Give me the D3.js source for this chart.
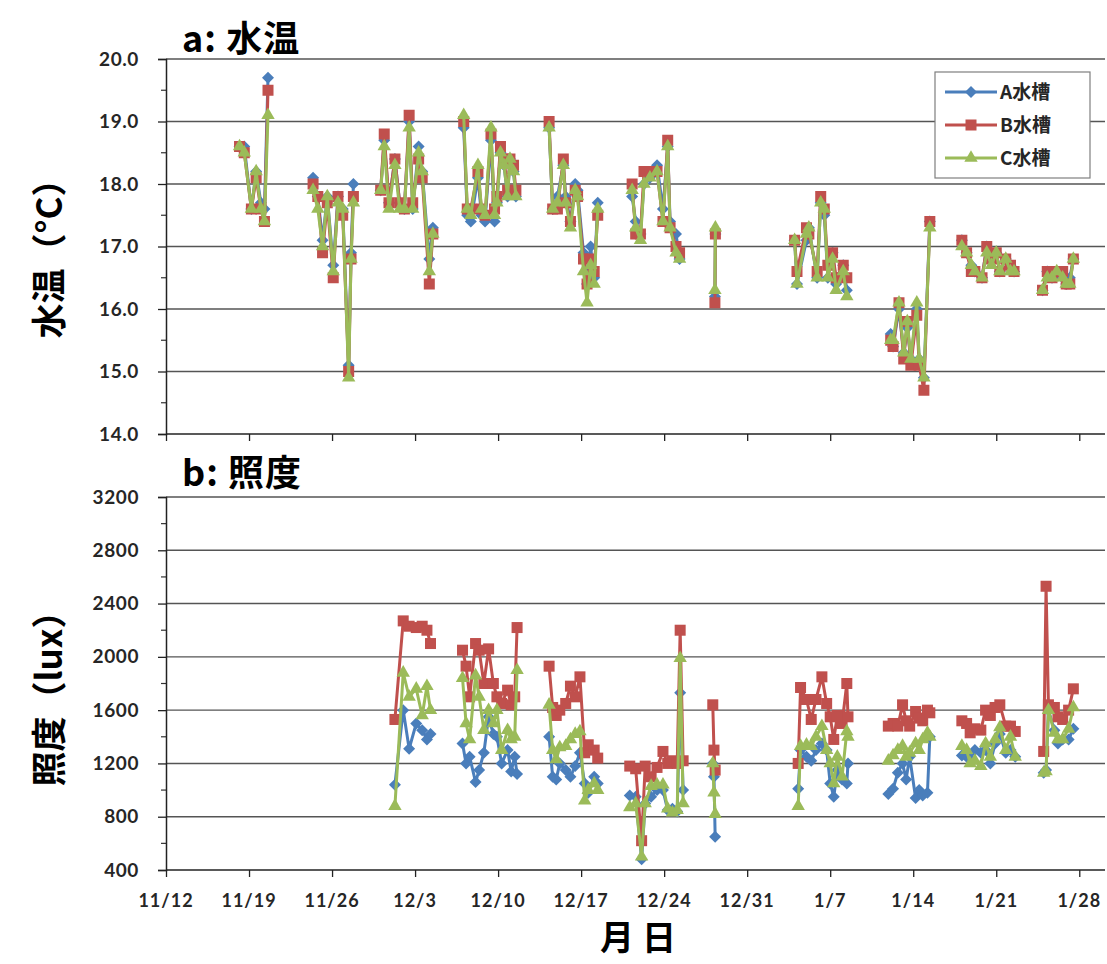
<!DOCTYPE html>
<html>
<head>
<meta charset="utf-8">
<script src="https://cdn.jsdelivr.net/npm/d3@7"></script>
<style>
  body { margin: 0; background: #fff; }
  text { font-family: "Lato", "Open Sans", sans-serif; }
  .jp { font-family: "Noto Sans CJK JP", sans-serif; }
</style>
</head>
<body>
<div id="chart"></div>
<script>
// day offsets from 11/12, null = gap between measurement runs
var tickLabels = ["11/12","11/19","11/26","12/3","12/10","12/17","12/24","12/31","1/7","1/14","1/21","1/28"];
var tickDays = [0, 7, 14, 21, 28, 35, 42, 49, 56, 63, 70, 77];
var seriesNames = ["A水槽", "B水槽", "C水槽"];
var colors = ["#4a7ebb", "#c0504d", "#9bbb59"];

var tempDays = [6.2, 6.6, 7.2, 7.6, 8.0, 8.3, 8.6, null,
  12.4, 12.8, 13.2, 13.6, 14.1, 14.5, 14.9, 15.4, 15.6, 15.8, null,
  18.1, 18.4, 18.8, 19.3, 19.7, 20.1, 20.5, 20.8, 21.3, 21.6, 22.2, 22.5, null,
  25.1, 25.4, 25.7, 26.3, 26.6, 26.9, 27.4, 27.7, 27.9, 28.2, 28.5, 28.8, 29.0, 29.3, 29.5, null,
  32.3, 32.6, 33.0, 33.5, 33.7, 34.1, 34.5, 34.7, 35.2, 35.5, 35.8, 36.1, 36.4, null,
  39.3, 39.6, 40.0, 40.3, 40.8, 41.4, 41.9, 42.3, 42.5, 43.0, 43.3, null,
  46.28, 46.32, null,
  53.0, 53.2, 54.0, 54.2, 54.9, 55.2, 55.5, 55.8, 56.2, 56.5, 57.1, 57.4, null,
  61.1, 61.3, 61.8, 62.2, 62.5, 62.8, 63.3, 63.5, 63.9, 64.4, null,
  67.1, 67.5, 67.9, 68.2, 68.8, 69.2, 69.6, 70.0, 70.3, 70.8, 71.2, 71.5, null,
  73.9, 74.3, 74.7, 75.1, 75.6, 75.9, 76.2, 76.5];
var tempA = [18.6, 18.6, 17.6, 18.2, 17.7, 17.6, 19.7, null,
  18.1, 17.8, 17.1, 17.8, 16.7, 17.8, 17.6, 15.1, 16.9, 18.0, null,
  17.9, 18.7, 17.7, 18.4, 17.7, 17.6, 19.0, 17.6, 18.6, 18.2, 16.8, 17.3, null,
  18.9, 17.5, 17.4, 18.1, 17.5, 17.4, 18.7, 17.4, 17.7, 18.5, 18.3, 17.8, 18.4, 18.2, 17.8, null,
  18.9, 17.6, 17.8, 18.3, 17.8, 17.4, 18.0, 17.9, 16.9, 16.4, 17.0, 16.5, 17.7, null,
  17.8, 17.4, 17.2, 18.0, 18.1, 18.3, 17.6, 18.6, 17.4, 17.2, 16.8, null,
  16.2, 17.2, null,
  17.1, 16.4, 17.1, 17.3, 16.5, 17.7, 17.5, 16.5, 16.9, 16.4, 16.7, 16.3, null,
  15.6, 15.4, 16.0, 15.3, 15.7, 15.2, 16.0, 15.2, 14.9, 17.4, null,
  17.1, 16.9, 16.7, 16.6, 16.5, 17.0, 16.8, 16.9, 16.6, 16.8, 16.7, 16.6, null,
  16.3, 16.6, 16.5, 16.6, 16.5, 16.4, 16.5, 16.8];
var tempB = [18.6, 18.5, 17.6, 18.1, 17.6, 17.4, 19.5, null,
  18.0, 17.8, 16.9, 17.7, 16.5, 17.8, 17.5, 15.0, 16.8, 17.8, null,
  17.9, 18.8, 17.7, 18.4, 17.7, 17.6, 19.1, 17.7, 18.4, 18.1, 16.4, 17.2, null,
  19.0, 17.6, 17.6, 18.2, 17.6, 17.5, 18.8, 17.6, 17.8, 18.6, 18.4, 17.9, 18.4, 18.3, 17.9, null,
  19.0, 17.6, 17.6, 18.4, 17.7, 17.4, 17.9, 17.8, 16.8, 16.4, 16.8, 16.6, 17.5, null,
  18.0, 17.2, 17.2, 18.2, 18.2, 18.2, 17.4, 18.7, 17.3, 17.0, 16.9, null,
  16.1, 17.2, null,
  17.1, 16.6, 17.3, 17.2, 16.6, 17.8, 17.6, 16.7, 16.9, 16.5, 16.7, 16.5, null,
  15.5, 15.4, 16.1, 15.2, 15.8, 15.1, 15.9, 15.1, 14.7, 17.4, null,
  17.1, 16.9, 16.6, 16.6, 16.5, 17.0, 16.8, 16.9, 16.6, 16.8, 16.7, 16.6, null,
  16.3, 16.6, 16.5, 16.6, 16.6, 16.4, 16.4, 16.8];
var tempC = [18.6, 18.5, 17.6, 18.2, 17.6, 17.4, 19.1, null,
  17.9, 17.6, 17.0, 17.8, 16.6, 17.7, 17.6, 14.9, 16.8, 17.7, null,
  17.9, 18.6, 17.6, 18.3, 17.6, 17.6, 18.9, 17.6, 18.5, 18.2, 16.6, 17.2, null,
  19.1, 17.6, 17.5, 18.3, 17.6, 17.5, 18.9, 17.5, 17.7, 18.5, 18.3, 17.8, 18.4, 18.2, 17.8, null,
  18.9, 17.6, 17.7, 18.3, 17.7, 17.3, 17.9, 17.8, 16.6, 16.1, 16.7, 16.4, 17.6, null,
  17.9, 17.3, 17.1, 18.0, 18.1, 18.2, 17.4, 18.6, 17.3, 16.9, 16.8, null,
  16.3, 17.3, null,
  17.1, 16.4, 17.2, 17.3, 16.5, 17.7, 17.6, 16.5, 16.8, 16.3, 16.6, 16.2, null,
  15.5, 15.5, 16.1, 15.3, 15.8, 15.2, 16.1, 15.2, 14.9, 17.3, null,
  17.0, 16.9, 16.7, 16.6, 16.5, 16.9, 16.7, 16.9, 16.6, 16.8, 16.6, 16.6, null,
  16.3, 16.5, 16.5, 16.6, 16.5, 16.4, 16.4, 16.8];

var luxDays = [19.3, 20.0, 20.5, 21.1, 21.6, 22.0, 22.3, null,
  25.0, 25.3, 25.6, 26.1, 26.4, 26.8, 27.2, 27.6, 27.9, 28.3, 28.8, 29.1, 29.4, 29.6, null,
  32.3, 32.6, 32.9, 33.2, 33.7, 34.1, 34.5, 34.9, 35.3, 35.6, 36.1, 36.4, null,
  39.1, 39.6, 40.1, 40.4, 40.9, 41.4, 41.9, 42.3, 42.7, 43.1, 43.35, 43.6, null,
  46.1, 46.2, 46.3, null,
  53.3, 53.5, 54.0, 54.4, 54.8, 55.3, 55.7, 56.0, 56.3, 56.6, 57.0, 57.4, 57.5, null,
  60.9, 61.3, 61.7, 62.1, 62.4, 62.7, 63.2, 63.5, 63.8, 64.2, 64.4, null,
  67.1, 67.5, 67.8, 68.2, 68.7, 69.1, 69.5, 69.9, 70.3, 70.8, 71.2, 71.6, null,
  74.0, 74.2, 74.4, 74.9, 75.2, 75.6, 76.1, 76.5];
var luxA = [1040, 1600, 1310, 1500, 1450, 1380, 1420, null,
  1350, 1200, 1250, 1060, 1150, 1280, 1550, 1420, 1400, 1200, 1300, 1140, 1250, 1120, null,
  1400, 1100, 1080, 1200, 1150, 1100, 1180, 1280, 1050, 980, 1100, 1050, null,
  960, 950, 480, 900, 950, 1000, 1000, 850, 860, 840, 1730, 1000, null,
  1200, 1100, 650, null,
  1010, 1300, 1250, 1220, 1300, 1350, 1300, 1050, 950, 1150, 1080, 1050, 1200, null,
  970, 1010, 1130, 1200, 1080, 1250, 940, 1000, 960, 980, 1400, null,
  1260, 1250, 1230, 1300, 1280, 1300, 1200, 1350, 1420, 1280, 1300, 1250, null,
  1130, 1150, 1600, 1450, 1350, 1380, 1380, 1460];
var luxB = [1530, 2270, 2230, 2220, 2230, 2200, 2100, null,
  2050, 1930, 1700, 2100, 2050, 1800, 2060, 1800, 1700, 1650, 1750, 1640, 1700, 2220, null,
  1930, 1620, 1560, 1600, 1650, 1780, 1700, 1850, 1280, 1340, 1300, 1240, null,
  1180, 1160, 620, 1180, 1100, 1170, 1290, 1200, 1220, 1200, 2200, 1220, null,
  1640, 1300, 1150, null,
  1200, 1770, 1680, 1530, 1680, 1850, 1650, 1550, 1380, 1560, 1500, 1800, 1550, null,
  1480, 1500, 1480, 1640, 1520, 1480, 1590, 1540, 1520, 1600, 1580, null,
  1520, 1500, 1430, 1460, 1450, 1600, 1560, 1620, 1640, 1480, 1480, 1440, null,
  1290, 2530, 1640, 1620, 1550, 1530, 1600, 1760];
var luxC = [880, 1880, 1700, 1760, 1560, 1780, 1600, null,
  1840, 1500, 1380, 1860, 1700, 1450, 1600, 1500, 1600, 1300, 1450, 1380, 1400, 1900, null,
  1640, 1300, 1230, 1320, 1330, 1380, 1420, 1440, 920, 1000, 1050, 1000, null,
  870, 900, 500, 900, 1030, 1040, 1040, 860, 830, 850, 1990, 900, null,
  1200, 980, 820, null,
  880, 1330, 1340, 1330, 1400, 1480, 1300, 1200, 1050, 1250, 1100, 1440, 1400, null,
  1220, 1260, 1300, 1330, 1250, 1280, 1350, 1300, 1380, 1430, 1400, null,
  1330, 1300, 1200, 1220, 1180, 1350, 1250, 1380, 1470, 1300, 1400, 1250, null,
  1130, 1140, 1600, 1430, 1380, 1380, 1460, 1620];

var tempTicks = [14, 15, 16, 17, 18, 19, 20];
var luxTicks = [400, 800, 1200, 1600, 2000, 2400, 2800, 3200];

var W = 1107, H = 964;
var svg = d3.select("#chart").append("svg").attr("width", W).attr("height", H);

var x = d3.scaleLinear().domain([0, 79]).range([166, 1103]);
var yT = d3.scaleLinear().domain([14, 20]).range([434, 59]);
var yL = d3.scaleLinear().domain([400, 3200]).range([870, 497]);

function marker(sel, k) {
  if (k === 0) sel.append("path").attr("d", "M0,-6L6,0L0,6L-6,0Z");
  else if (k === 1) sel.append("rect").attr("x", -5.5).attr("y", -5.5).attr("width", 11).attr("height", 11);
  else sel.append("path").attr("d", d3.symbol(d3.symbolTriangle, 78)());
}

function panel(y, ticks, fmt, minorStep, days, series) {
  var g = svg.append("g");
  // gridlines
  g.selectAll(".grid").data(ticks.slice(1)).enter().append("line")
    .attr("x1", x.range()[0]).attr("x2", 1105)
    .attr("y1", d => y(d)).attr("y2", d => y(d))
    .attr("stroke", "#555").attr("stroke-width", 1.4);

  // minor ticks
  var minors = d3.range(ticks[0] + minorStep, ticks[ticks.length - 1], minorStep * 2);
  g.selectAll(".minor").data(minors).enter().append("line")
    .attr("x1", 161).attr("x2", 166)
    .attr("y1", d => y(d)).attr("y2", d => y(d))
    .attr("stroke", "#333").attr("stroke-width", 1.2);

  var ya = g.append("g").attr("transform", "translate(166,0)")
    .call(d3.axisLeft(y).tickValues(ticks).tickFormat(fmt).tickSize(8).tickPadding(19));
  ya.select(".domain").attr("stroke", "#222").attr("stroke-width", 1.5);
  ya.selectAll(".tick line").attr("stroke", "#222").attr("stroke-width", 1.3);
  ya.selectAll("text").attr("font-size", 19).attr("font-weight", "bold")
    .attr("fill", "#262626").style("font-family", "Lato").attr("letter-spacing", "0.6px");

  var xa = g.append("g").attr("transform", "translate(0," + y.range()[0] + ")")
    .call(d3.axisBottom(x).tickValues(tickDays).tickFormat("").tickSize(7).tickSizeOuter(0));
  xa.select(".domain").attr("stroke", "#222").attr("stroke-width", 1.5)
    .attr("d", "M166,0H1105");
  xa.selectAll(".tick line").attr("stroke", "#222").attr("stroke-width", 1.3);

  var line = d3.line().defined(d => d.v != null).x(d => x(d.t)).y(d => y(d.v));
  series.forEach(function(vals, k) {
    var pts = days.map((t, i) => ({t: t, v: vals[i]}));
    g.append("path").datum(pts).attr("d", line)
      .attr("fill", "none").attr("stroke", colors[k]).attr("stroke-width", 3)
      .attr("stroke-linejoin", "round");
    g.selectAll(".m" + k).data(pts.filter(d => d.v != null)).enter().append("g")
      .attr("transform", d => "translate(" + x(d.t) + "," + y(d.v) + ")")
      .attr("fill", colors[k])
      .each(function() { marker(d3.select(this), k); });
  });
  return g;
}

panel(yT, tempTicks, d3.format(".1f"), 0.5, tempDays, [tempA, tempB, tempC]);
panel(yL, luxTicks, d3.format("d"), 200, luxDays, [luxA, luxB, luxC]);

// date labels on the lower axis
svg.selectAll(".xl").data(tickDays).enter().append("text")
  .attr("x", d => x(d)).attr("y", 907).attr("text-anchor", "middle")
  .attr("font-size", 18).attr("font-weight", "bold").attr("fill", "#262626")
  .attr("letter-spacing", "1px")
  .text((d, i) => tickLabels[i]);

// titles
svg.append("text").attr("class", "jp").attr("x", 182).attr("y", 52)
  .attr("font-size", 36).attr("font-weight", "bold").attr("letter-spacing", "1px").text("a: 水温");
svg.append("text").attr("class", "jp").attr("x", 182).attr("y", 486)
  .attr("font-size", 36).attr("font-weight", "bold").attr("letter-spacing", "1px").text("b: 照度");
svg.append("text").attr("class", "jp").attr("x", 642).attr("y", 950)
  .attr("text-anchor", "middle").attr("font-size", 34).attr("font-weight", "bold")
  .attr("letter-spacing", "8px").text("月日");
svg.append("text").attr("class", "jp")
  .attr("transform", "translate(62,250) rotate(-90)").attr("text-anchor", "middle")
  .attr("font-size", 35).attr("font-weight", "bold").text("水温（°C）");
svg.append("text").attr("class", "jp")
  .attr("transform", "translate(62,690) rotate(-90)").attr("text-anchor", "middle")
  .attr("font-size", 35).attr("font-weight", "bold").text("照度（lux）");

// legend
var lg = svg.append("g").attr("transform", "translate(935,72)");
lg.append("rect").attr("width", 155).attr("height", 106)
  .attr("fill", "#fff").attr("stroke", "#7f7f7f").attr("stroke-width", 1.2);
seriesNames.forEach(function(n, k) {
  var yy = 20 + k * 33;
  lg.append("line").attr("x1", 10).attr("x2", 62).attr("y1", yy).attr("y2", yy)
    .attr("stroke", colors[k]).attr("stroke-width", 3);
  var m = lg.append("g").attr("transform", "translate(36," + yy + ")").attr("fill", colors[k]);
  marker(m, k);
  lg.append("text").attr("class", "jp").attr("x", 65).attr("y", yy + 7)
    .attr("font-size", 19).attr("font-weight", "bold").attr("fill", "#262626").text(n);
});
</script>
</body>
</html>
